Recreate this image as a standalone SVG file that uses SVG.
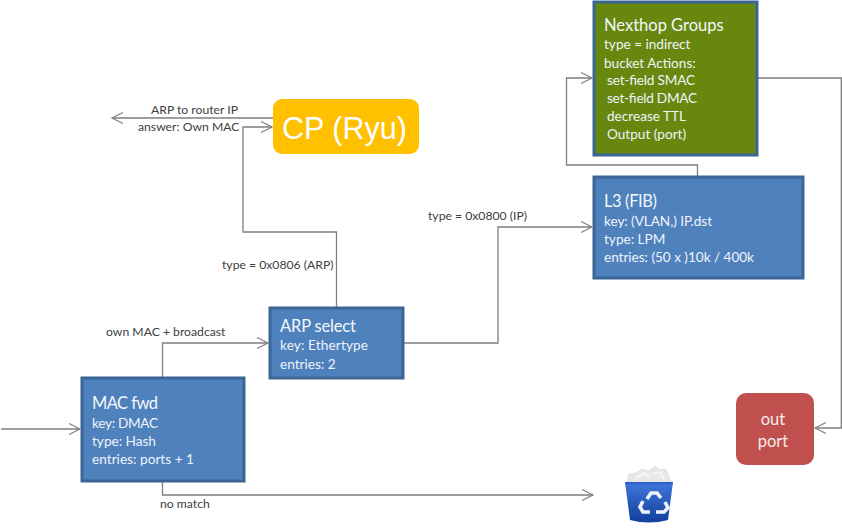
<svg xmlns="http://www.w3.org/2000/svg" width="842" height="532" viewBox="0 0 842 532">
<style>
text{font-family:Lato,"Liberation Sans",sans-serif}
.box{stroke:#3a6595;stroke-width:3}
.t{fill:#f0f4fa;font-size:13.6px}
.h{fill:#f4f7fb;font-size:16.5px}
.l{fill:#404040;font-size:12.200px}
.c{fill:none;stroke:#7f7f7f;stroke-width:1.3}
.k{stroke-width:1.700}
</style>
<defs>
<marker id="a" markerUnits="userSpaceOnUse" markerWidth="14" markerHeight="14" refX="12" refY="7" orient="auto"><path d="M1 1.500L12 7L1 12.500" fill="none" stroke="#7f7f7f" stroke-width="1.200"/></marker>
<linearGradient id="bin" x1="0" y1="0" x2="0" y2="1"><stop offset="0" stop-color="#3f78dc"/><stop offset="1" stop-color="#123f9c"/></linearGradient>
</defs>
<rect width="842" height="532" fill="#fff"/>
<g id="connectors">
<path class="c" d="M1 429H80" marker-end="url(#a)"/>
<path class="c" d="M162.500 378V343H268" marker-end="url(#a)"/>
<path class="c" d="M162.500 481V495H593" marker-end="url(#a)"/>
<path class="c" d="M336.500 307V232H243V127H272" marker-end="url(#a)"/>
<path class="c k" d="M273 118H112" marker-end="url(#a)"/>
<path class="c" d="M403 343H498V227H592" marker-end="url(#a)"/>
<path class="c" d="M697.500 176V165H566.500V78H592" marker-end="url(#a)"/>
<path class="c k" d="M757 78H841.500V428H815" marker-end="url(#a)"/>
</g>
<g class="l">
<text class="l" x="151" y="114">ARP to router IP</text>
<text class="l" x="138" y="131">answer: Own MAC</text>
<text class="l" x="222" y="269">type = 0x0806 (ARP)</text>
<text class="l" x="428" y="220">type = 0x0800 (IP)</text>
<text class="l" x="106" y="336">own MAC + broadcast</text>
<text class="l" x="160" y="508">no match</text>
</g>
<g id="nexthop">
<rect class="box" x="594" y="2" width="163" height="153" fill="#67870f"/>
<text class="h" x="604" y="31">Nexthop Groups</text>
<text class="t" x="604" y="49">type = indirect</text>
<text class="t" x="604" y="68">bucket Actions:</text>
<text class="t" x="607" y="85" textLength="88">set-field SMAC</text>
<text class="t" x="607" y="103" textLength="90">set-field DMAC</text>
<text class="t" x="607" y="121">decrease TTL</text>
<text class="t" x="607" y="139">Output (port)</text>
</g>
<g id="l3">
<rect class="box" x="594" y="177" width="209" height="101" fill="#4f81bd"/>
<text class="h" x="604" y="207" textLength="53">L3 (FIB)</text>
<text class="t" x="604" y="226" textLength="108">key: (VLAN,) IP.dst</text>
<text class="t" x="604" y="244">type: LPM</text>
<text class="t" x="604" y="262" textLength="150">entries: (50 x )10k / 400k</text>
</g>
<g id="arp">
<rect class="box" x="270" y="308" width="133" height="70" fill="#4f81bd"/>
<text class="h" x="280" y="332" textLength="76">ARP select</text>
<text class="t" x="280" y="350" textLength="88">key: Ethertype</text>
<text class="t" x="280" y="369">entries: 2</text>
</g>
<g id="mac">
<rect class="box" x="82" y="378" width="162" height="103" fill="#4f81bd"/>
<text class="h" x="92" y="409" textLength="66">MAC fwd</text>
<text class="t" x="92" y="428" textLength="66">key: DMAC</text>
<text class="t" x="92" y="446">type: Hash</text>
<text class="t" x="92" y="464" textLength="102">entries: ports + 1</text>
</g>
<g id="cp">
<rect x="273" y="99" width="146" height="55" rx="9" fill="#ffc000"/>
<text x="282" y="139" font-size="30.500" fill="#fff" style="font-family:'Liberation Sans',sans-serif">CP (Ryu)</text>
</g>
<g id="outport">
<rect x="736" y="393" width="78" height="72" rx="10" fill="#c0504d"/>
<text x="773" y="425" font-size="16.500" fill="#f6ecec" text-anchor="middle">out</text>
<text x="773" y="447" font-size="16.500" fill="#f6ecec" text-anchor="middle">port</text>
</g>
<g id="bin-icon">
<path d="M627 482L629 474L636 473L642 469L649 471L655 466L660 470L666 469L669 476L671 482Z" fill="#e8e8e8" stroke="#d4d4d4" stroke-width=".6"/>
<path d="M636 478L644 473L650 478M652 474L660 472L664 479" fill="none" stroke="#fafafa" stroke-width="1.500"/>
<path d="M625 482H673L668 520Q649 525 630 520Z" fill="url(#bin)"/>
<path d="M625 482H673L672.500 484.500H625.500Z" fill="#2f62c8"/>
<g fill="none" stroke="#eef3fb" stroke-width="3.600">
<path d="M647 499L651 493H657L661 498"/>
<path d="M665 502L668 508L664 512H656"/>
<path d="M650 512H643L640 507L643 501"/>
</g>
</g>
</svg>
